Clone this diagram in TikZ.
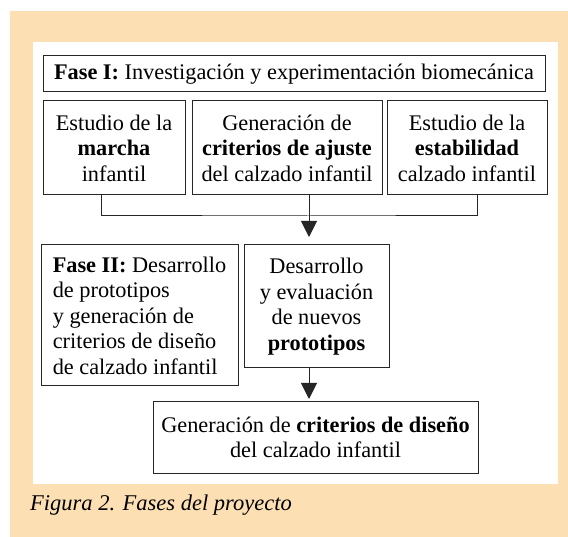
\documentclass[tikz,border=0pt]{standalone}
\usepackage{fontspec}
\setmainfont{Liberation Serif}
\usetikzlibrary{arrows.meta}
\definecolor{peach}{RGB}{253,223,180}
\begin{document}
\begin{tikzpicture}[x=1pt,y=-1pt,
  every node/.style={font=\fontsize{22.3}{25.5}\selectfont, inner sep=0pt},
  box/.style={draw=black!85, line width=1pt, align=center},
  conn/.style={draw=black!85, line width=1pt},
  tip/.style={-{Triangle[width=16pt,length=16pt]}}]
\useasboundingbox (0,0) rectangle (568,537);
\fill[white] (0,0) rectangle (568,537);
\fill[peach] (10,11) rectangle (568,537);
\fill[white] (33,42) rectangle (558,484);
% boxes
\node[box, minimum width=502pt, minimum height=36pt] (f1) at (294,74)
  {\textbf{Fase I:} Investigación y experimentación biomecánica};
\node[box, minimum width=142pt, minimum height=94pt] (b1) at (114,148)
  {Estudio de la\\\textbf{marcha}\\infantil};
\node[box, minimum width=190pt, minimum height=94pt] (b2) at (287,148)
  {Generación de\\\textbf{criterios de ajuste}\\del calzado infantil};
\node[box, minimum width=160pt, minimum height=94pt] (b3) at (467,148)
  {Estudio de la\\\textbf{estabilidad}\\calzado infantil};
\node[box, minimum width=197pt, minimum height=141pt, align=left] (f2) at (139.5,315.5)
  {\textbf{Fase II:} Desarrollo\\de prototipos\\y generación de\\criterios de diseño\\de calzado infantil};
\node[box, minimum width=145pt, minimum height=123pt] (des) at (316.5,306.5)
  {Desarrollo\\y evaluación\\de nuevos\\\textbf{prototipos}};
\node[box, minimum width=325pt, minimum height=71pt] (gen) at (315.5,437.5)
  {Generación de \textbf{criterios de diseño}\\del calzado infantil};
% connectors
\coordinate (j) at (309,216);
\coordinate (t1) at (309,237);
\coordinate (t2) at (309,399);
\draw[conn] (b1.south -| 101,0) |- (j) -| (b3.south -| 477,0);
\draw[conn, tip] (b2.south -| j) -- (t1);
\draw[conn, tip] (des.south -| j) -- (t2);
% caption
\node[anchor=base west, font=\fontsize{22.5}{25}\selectfont\itshape] (cap) at (30,510)
  {Figura 2. Fases del proyecto};
\end{tikzpicture}
\end{document}
